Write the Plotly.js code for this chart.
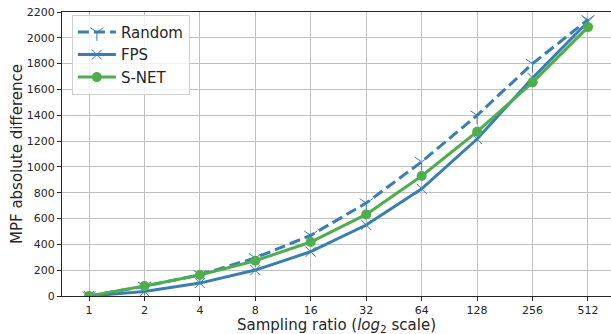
<!DOCTYPE html>
<html>
<head>
<meta charset="utf-8">
<script src="https://cdn.plot.ly/plotly-3.0.1.min.js"></script>
<style>html,body{margin:0;padding:0;background:#fff;}#chart{width:611px;height:334px;}</style>
</head>
<body>
<div id="chart"></div>
<script>
const ratios = [1, 2, 4, 8, 16, 32, 64, 128, 256, 512];
const tickLabels = ["1", "2", "4", "8", "16", "32", "64", "128", "256", "512"];
const randomVals = [0, 75, 165, 295, 470, 720, 1040, 1400, 1800, 2140];
const fpsVals = [0, 35, 100, 201, 343, 550, 830, 1216, 1689, 2125];
const snetVals = [0, 78, 163, 273, 418, 632, 930, 1273, 1655, 2083];

const blue = '#377eb8';
const green = '#4daf4a';

const traces = [
  {x: ratios, y: randomVals, name: 'Random', mode: 'lines+markers',
   line: {color: blue, width: 3, dash: '11px,5px'},
   marker: {symbol: 'y-down-open', size: 11, color: blue, line: {color: blue, width: 1}}},
  {x: ratios, y: fpsVals, name: 'FPS', mode: 'lines+markers',
   line: {color: blue, width: 3},
   marker: {symbol: 'x-thin-open', size: 10, color: blue, line: {color: blue, width: 1}}},
  {x: ratios, y: snetVals, name: 'S-NET', mode: 'lines+markers',
   line: {color: green, width: 3},
   marker: {symbol: 'circle', size: 10, color: green}}
];

const lo = Math.log10(Math.pow(2, -0.487));
const hi = Math.log10(Math.pow(2, 9.415));

const layout = {
  width: 611, height: 334,
  margin: {l: 62, r: 0, t: 12, b: 38},
  paper_bgcolor: '#fff', plot_bgcolor: '#fff',
  font: {family: 'DejaVu Sans', color: '#262626'},
  showlegend: true,
  legend: {x: 0.018, y: 0.99, xanchor: 'left', yanchor: 'top',
           bgcolor: 'rgba(255,255,255,0.8)', bordercolor: '#d0d0d0', borderwidth: 1,
           font: {size: 15, color: '#262626'}, tracegroupgap: 0, itemwidth: 38},
  xaxis: {type: 'log', range: [lo, hi], tickvals: ratios, ticktext: tickLabels,
          showgrid: true, gridcolor: '#c0c0c0', gridwidth: 1,
          showline: true, linecolor: '#262626', linewidth: 1, mirror: true,
          ticks: 'outside', ticklen: 4, tickcolor: '#262626',
          tickfont: {size: 11}, zeroline: false},
  yaxis: {range: [0, 2200], tickvals: [0,200,400,600,800,1000,1200,1400,1600,1800,2000,2200],
          showgrid: true, gridcolor: '#c0c0c0', gridwidth: 1,
          showline: true, linecolor: '#262626', linewidth: 1,
          ticks: 'outside', ticklen: 4, tickcolor: '#262626',
          tickfont: {size: 11}, zeroline: false,
          title: {text: 'MPF absolute difference', font: {size: 15}, standoff: 0}},
  annotations: [{text: 'Sampling ratio (<i>log</i><sub>2</sub> scale)', xref: 'paper', yref: 'paper',
                 x: 0.5, y: -0.103, xanchor: 'center', yanchor: 'middle', showarrow: false,
                 borderpad: 0, font: {size: 15, color: '#262626'}}]
};

Plotly.newPlot('chart', traces, layout, {displayModeBar: false, staticPlot: true});
</script>
</body>
</html>
